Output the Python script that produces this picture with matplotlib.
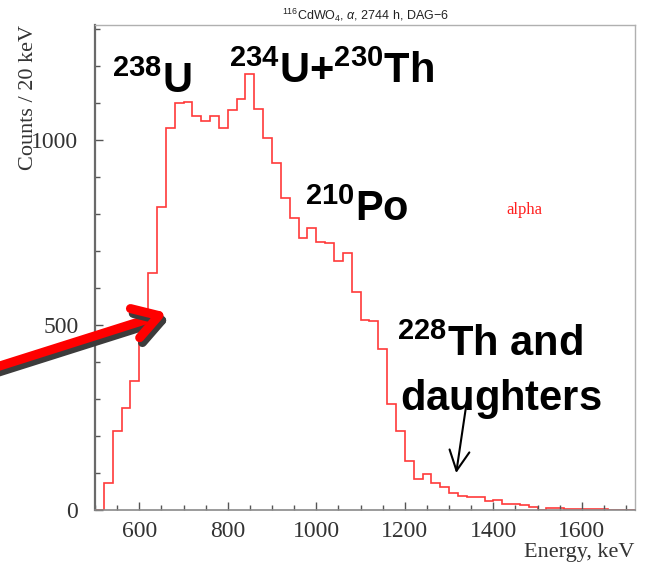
import matplotlib
matplotlib.use("Agg")
import matplotlib.pyplot as plt
import matplotlib.patheffects as pe
import matplotlib.ticker as mticker
import numpy as np

# ── spectrum: counts per 20 keV bin, starting at 500 keV ─────────────────────
BIN_START = 500
BIN_WIDTH = 20
counts = [
    0, 74, 215, 276, 350, 520, 641, 821, 1033, 1101,
    1105, 1067, 1051, 1067, 1033, 1083, 1112, 1180, 1085, 1006,
    938, 845, 791, 735, 762, 726, 722, 674, 696, 589,
    514, 511, 435, 287, 214, 133, 83, 97, 72, 63,
    47, 39, 34, 34, 24, 28, 17, 17, 13, 8,
    1, 5, 5, 2, 2, 4, 4, 2, 1, 0,
    0,
]
edges = BIN_START + BIN_WIDTH * np.arange(len(counts) + 1)

x_ticks = [600, 800, 1000, 1200, 1400, 1600]
y_ticks = [0, 500, 1000]

# peak labels: (text, energy, counts) at the left end of the text baseline
peak_labels = [
    (r"$\mathbf{{}^{238}U}$", 539, 1128),
    (r"$\mathbf{{}^{234}U{+}^{230}Th}$", 803, 1155),
    (r"$\mathbf{{}^{210}Po}$", 975, 782),
    (r"$\mathbf{{}^{228}Th\ and}$", 1183, 417),
    (r"$\mathbf{daughters}$", 1189, 271),
]

plt.rcParams["mathtext.fontset"] = "custom"
plt.rcParams["mathtext.rm"] = "Liberation Sans"
plt.rcParams["mathtext.bf"] = "Liberation Sans:bold"
plt.rcParams["mathtext.it"] = "Liberation Sans:italic"

SERIF = "Liberation Serif"
C_HIST = "#ff3a3a"
C_TEXT = "#333333"

fig = plt.figure(figsize=(6.46, 5.68), dpi=100)
ax = fig.add_axes([95 / 646, 1 - 510 / 568, 540 / 646, 485 / 568])

ax.stairs(counts, edges, color=C_HIST, linewidth=1.2, baseline=0)

ax.set_xlim(500, 1720)
ax.set_ylim(0, 1312)

ax.xaxis.set_major_locator(mticker.FixedLocator(x_ticks))
ax.xaxis.set_minor_locator(mticker.MultipleLocator(50))
ax.yaxis.set_major_locator(mticker.FixedLocator(y_ticks))
ax.yaxis.set_minor_locator(mticker.MultipleLocator(100))

ax.tick_params(axis="both", which="both", direction="in", colors="#555555",
               labelcolor=C_TEXT, labelsize=17)
ax.tick_params(axis="x", which="major", length=6, width=1.0, pad=8)
ax.tick_params(axis="x", which="minor", length=3.5, width=1.0)
ax.tick_params(axis="y", which="major", length=6, width=1.0, pad=12)
ax.tick_params(axis="y", which="minor", length=3.5, width=1.0)
for lab in ax.get_xticklabels() + ax.get_yticklabels():
    lab.set_fontfamily(SERIF)

for side in ["top", "right"]:
    ax.spines[side].set_color("#b0b0b0")
    ax.spines[side].set_linewidth(1.0)
ax.spines["left"].set_color("#6a6a6a")
ax.spines["left"].set_linewidth(1.6)
ax.spines["bottom"].set_color("#8a8a8a")
ax.spines["bottom"].set_linewidth(1.2)

# axis titles sit at the far ends of the axes
fig.text(29 / 646, 1 - 25 / 568, "Counts / 20 keV", rotation=90, ha="center",
         va="top", fontsize=16, fontfamily=SERIF, color=C_TEXT)
fig.text(634 / 646, 1 - 552 / 568, "Energy, keV", ha="right", va="center",
         fontsize=16, fontfamily=SERIF, color=C_TEXT)
fig.text(365 / 646, 1 - 15 / 568, r"$^{116}$CdWO$_4$, $\alpha$, 2744 h, DAG$-$6",
         ha="center", va="center", fontsize=9, fontfamily="Liberation Sans",
         color="#222222")

ax.text(1470, 812, "alpha", color="#ff2020", fontsize=12, fontfamily=SERIF,
        ha="center", va="center")

for text, e, c in peak_labels:
    ax.text(e, c, text, fontsize=30, ha="left", va="baseline", color="black")

# thick red pointer with a dark drop shadow, entering from the left edge
ax.annotate(
    "", xy=(663, 533), xycoords="data",
    xytext=(-0.03, 0.345), textcoords="figure fraction",
    arrowprops=dict(arrowstyle="->,head_length=0.9,head_width=0.55",
                    color="#ff0000", lw=6.5, mutation_scale=20,
                    shrinkA=0, shrinkB=0,
                    path_effects=[pe.SimpleLineShadow(offset=(2, -3.5),
                                                      shadow_color="#3c3c3c",
                                                      alpha=1.0),
                                  pe.Normal()]),
    annotation_clip=False,
)

# thin black pointer to the 228Th tail
ax.annotate("", xy=(1316, 100), xytext=(1342, 310),
            arrowprops=dict(arrowstyle="->,head_length=0.8,head_width=0.4",
                            color="black", lw=1.5, mutation_scale=18,
                            shrinkA=0, shrinkB=0))

fig.savefig("out.png", dpi=100)
